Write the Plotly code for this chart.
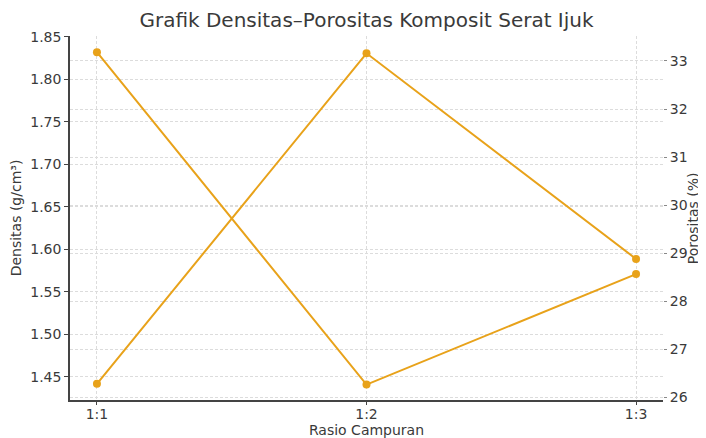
import plotly.graph_objects as go

categories = ["1:1", "1:2", "1:3"]
densitas = [1.832, 1.441, 1.571]
porositas = [26.28, 33.16, 28.88]
left_ticks = [1.45, 1.50, 1.55, 1.60, 1.65, 1.70, 1.75, 1.80, 1.85]
right_ticks = [26, 27, 28, 29, 30, 31, 32, 33]

color = "#E8A21A"
font = "DejaVu Sans"
txt = "#3a3a3a"
grid = "#dcdcdc"
gdash = "3px,2px"

fig = go.Figure()
fig.add_trace(go.Scatter(x=categories, y=densitas, mode="lines+markers",
                         line=dict(color=color, width=2), marker=dict(size=8, color=color),
                         name="Densitas", yaxis="y"))
fig.add_trace(go.Scatter(x=categories, y=porositas, mode="lines+markers",
                         line=dict(color=color, width=2), marker=dict(size=8, color=color),
                         name="Porositas", yaxis="y2"))

fig.update_layout(
    width=706, height=438,
    margin=dict(l=62, r=51, t=28, b=46, autoexpand=False),
    paper_bgcolor="white", plot_bgcolor="white",
    showlegend=False,
    font=dict(family=font, color=txt, size=14),
    title=dict(text="Grafik Densitas–Porositas Komposit Serat Ijuk",
               x=0.5, xanchor="center", xref="paper", y=1 - 12 / 438, yanchor="middle",
               font=dict(size=20, color=txt)),
    xaxis=dict(type="category", range=[-0.1, 2.1], showgrid=True, gridcolor=grid,
               griddash=gdash, gridwidth=1, showline=True, linecolor="#444", linewidth=1.5,
               ticks="outside", ticklen=3, tickcolor="#444", automargin=False,
               ticklabelstandoff=-3,
               title=dict(text="Rasio Campuran", standoff=0, font=dict(size=14)),
               zeroline=False),
    yaxis=dict(range=[1.4229, 1.851], tickvals=left_ticks, tickformat=".2f",
               showgrid=True, gridcolor=grid, griddash=gdash, gridwidth=1,
               showline=True, linecolor="#444", linewidth=1.5, automargin=False,
               ticks="outside", ticklen=4, tickcolor="#444",
               title=dict(text="Densitas (g/cm³)", standoff=8, font=dict(size=14)),
               zeroline=False),
    yaxis2=dict(range=[25.944, 33.52], tickvals=right_ticks, overlaying="y", side="right",
                showgrid=True, gridcolor=grid, griddash=gdash, gridwidth=1, automargin=False,
                showline=False, ticks="outside", ticklen=3, tickcolor="#888",
                zeroline=False),
    annotations=[dict(text="Porositas (%)", xref="paper", yref="paper",
                      x=1.051, y=0.5, xanchor="center", yanchor="middle",
                      textangle=-90, showarrow=False, font=dict(size=14, color=txt))],
)

fig.write_html("out.html")
